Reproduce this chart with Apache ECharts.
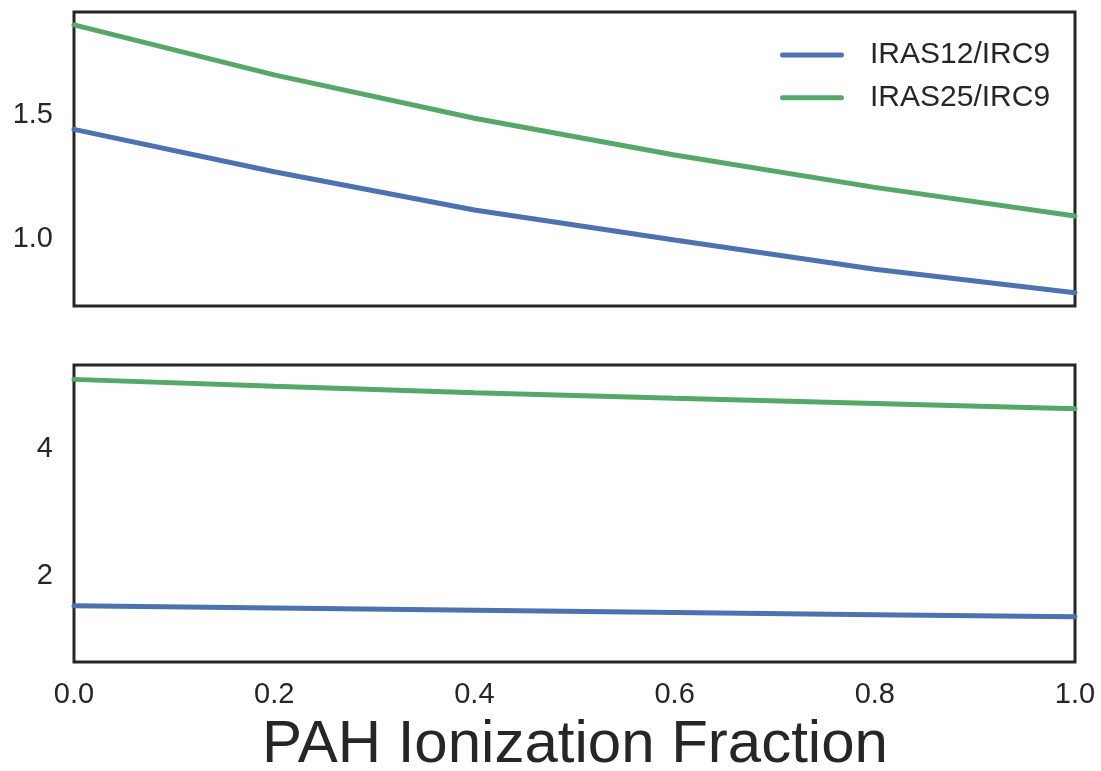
<!DOCTYPE html>
<html>
<head>
<meta charset="utf-8">
<script src="https://cdn.jsdelivr.net/npm/echarts@6/dist/echarts.min.js"></script>
<style>
html,body{margin:0;padding:0;background:#fff;}
#chart{width:1101px;height:771px;}
</style>
</head>
<body>
<div id="chart"></div>
<script>
// PAH ionization fraction (x)
const fraction = [0.0, 0.2, 0.4, 0.6, 0.8, 1.0];
// Top panel
const topIRAS12 = [1.442, 1.272, 1.118, 0.997, 0.880, 0.785];
const topIRAS25 = [1.862, 1.661, 1.487, 1.339, 1.209, 1.094];
// Bottom panel
const botIRAS12 = [1.526, 1.490, 1.455, 1.420, 1.385, 1.352];
const botIRAS25 = [5.100, 4.990, 4.890, 4.800, 4.720, 4.637];
// Tick labels
const xTicks = [0.0, 0.2, 0.4, 0.6, 0.8, 1.0];
const topYTicks = [1.0, 1.5];
const botYTicks = [2, 4];
const seriesNames = ['IRAS12/IRC9', 'IRAS25/IRC9'];

const pairs = (ys) => fraction.map((x, i) => [x, ys[i]]);
const blue = '#4C72B0', green = '#55A868', ink = '#262626';
const FONT = '"Liberation Sans", Arial, sans-serif';

const chart = echarts.init(document.getElementById('chart'));
const yAxisBase = {
  type: 'value',
  axisLine: {show: false},
  axisTick: {show: false},
  splitLine: {show: false},
  axisLabel: {color: ink, fontSize: 29, fontFamily: FONT, margin: 21}
};
const lineSeries = (name, ys, color, idx) => ({
  name, type: 'line', xAxisIndex: idx, yAxisIndex: idx,
  data: pairs(ys), symbol: 'none', showSymbol: false,
  lineStyle: {color, width: 5, cap: 'round'}, itemStyle: {color},
  animation: false
});

chart.setOption({
  animation: false,
  backgroundColor: '#fff',
  grid: [
    {left: 74, top: 12, width: 1001, height: 294, show: true, borderColor: ink, borderWidth: 3, backgroundColor: 'transparent', z: 3},
    {left: 74, top: 365, width: 1001, height: 297, show: true, borderColor: ink, borderWidth: 3, backgroundColor: 'transparent', z: 3}
  ],
  xAxis: [
    {gridIndex: 0, type: 'value', min: 0, max: 1, interval: 0.2,
     axisLine: {show: false}, axisTick: {show: false}, splitLine: {show: false}, axisLabel: {show: false}},
    {gridIndex: 1, type: 'value', min: 0, max: 1, interval: 0.2,
     axisLine: {show: false}, axisTick: {show: false}, splitLine: {show: false},
     axisLabel: {color: ink, fontSize: 29, fontFamily: FONT, margin: 18,
       customValues: xTicks, formatter: v => v.toFixed(1)}}
  ],
  yAxis: [
    Object.assign({}, yAxisBase, {gridIndex: 0, min: 0.732, max: 1.914,
      axisLabel: Object.assign({}, yAxisBase.axisLabel, {customValues: topYTicks, formatter: v => v.toFixed(1)})}),
    Object.assign({}, yAxisBase, {gridIndex: 1, min: 0.637, max: 5.327,
      axisLabel: Object.assign({}, yAxisBase.axisLabel, {customValues: botYTicks, formatter: v => String(Math.round(v))})})
  ],
  legend: {
    data: seriesNames,
    orient: 'vertical',
    left: 775, top: 35,
    itemWidth: 64, itemHeight: 14, itemGap: 12.7,
    icon: 'path://M2.5,0L61.5,0A2.5,2.5,0,0,1,61.5,5L2.5,5A2.5,2.5,0,0,1,2.5,0Z',
    textStyle: {color: ink, fontSize: 30, fontFamily: FONT, lineHeight: 30, padding: [0, 0, 0, 21]}
  },
  series: [
    lineSeries(seriesNames[0], topIRAS12, blue, 0),
    lineSeries(seriesNames[1], topIRAS25, green, 0),
    lineSeries(seriesNames[0], botIRAS12, blue, 1),
    lineSeries(seriesNames[1], botIRAS25, green, 1)
  ],
  graphic: [{
    type: 'text', x: 575, y: 745,
    style: {text: 'PAH Ionization Fraction', fill: ink, fontSize: 60, fontFamily: FONT,
      textAlign: 'center', textVerticalAlign: 'middle'}
  }]
});
</script>
</body>
</html>
